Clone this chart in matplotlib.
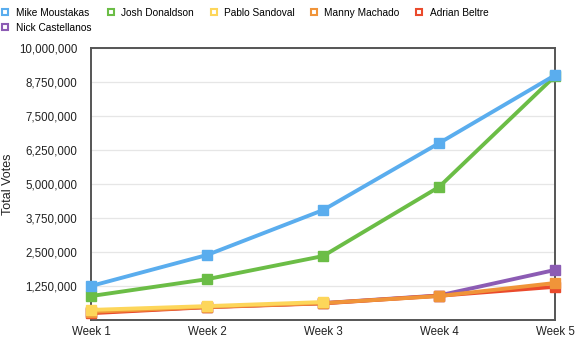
import matplotlib
matplotlib.use("Agg")
import matplotlib.pyplot as plt
from matplotlib.ticker import FuncFormatter, MultipleLocator
from matplotlib.lines import Line2D

plt.rcParams["font.family"] = ["Liberation Sans", "DejaVu Sans"]

# ======================
# Data
# ======================
weeks = ["Week 1", "Week 2", "Week 3", "Week 4", "Week 5"]

mike_moustakas = [1250000, 2390000, 4040000, 6500000, 9000000]
josh_donaldson = [880000, 1500000, 2350000, 4890000, 8970000]
pablo_sandoval = [370000, 510000, 660000]
manny_machado = [300000, 480000, 620000, 880000, 1360000]
adrian_beltre = [250000, 470000, 610000, 890000, 1220000]
nick_castellanos = [280000, 480000, 620000, 900000, 1840000]

players = ["Mike Moustakas", "Josh Donaldson", "Pablo Sandoval",
           "Manny Machado", "Adrian Beltre", "Nick Castellanos"]
series = [mike_moustakas, josh_donaldson, pablo_sandoval,
          manny_machado, adrian_beltre, nick_castellanos]
colors = ["#5aadee", "#6bbd46", "#fdd65a", "#f09439", "#ea4a2c", "#8c5cb4"]

# ======================
# Plot
# ======================
fig = plt.figure(figsize=(5.8, 3.45), dpi=100)
ax = fig.add_axes([0.157, 0.0725, 0.8, 0.7885])

handles = []
for i, (name, vals, c) in enumerate(zip(players, series, colors)):
    ax.plot(range(len(vals)), vals, color=c, lw=2.8, marker="s", ms=7,
            mec=c, mfc=c, zorder=10 - i, clip_on=False, solid_joinstyle="round")
    handles.append(Line2D([], [], ls="none", marker="s", ms=4.5, mfc="white",
                          mec=c, mew=1.5, label=name))

ax.set_xlim(0, len(weeks) - 1)
ax.set_ylim(0, 10000000)
ax.set_xticks(range(len(weeks)))
ax.set_xticklabels(weeks)
ax.yaxis.set_major_locator(MultipleLocator(1250000))
ax.yaxis.set_major_formatter(FuncFormatter(lambda v, p: "" if v == 0 else f"{int(v):,}"))
ax.tick_params(axis="both", length=0, labelsize=8.3, colors="#222222")
ax.tick_params(axis="y", pad=10)
ax.tick_params(axis="x", pad=4)
ax.grid(axis="y", color="#e6e6e6", lw=0.9)
ax.set_axisbelow(True)
for s in ax.spines.values():
    s.set_color("#555555")
    s.set_linewidth(1.4)

fig.text(8 / 580, 1 - 184 / 345, "Total Votes", rotation=90, ha="center",
         va="center", fontsize=9, color="#222222")

# legend: column-major fill, so put Nick second to land under Mike
order = [0, 5, 1, 2, 3, 4]
fig.legend([handles[i] for i in order], [players[i] for i in order],
           loc="upper left", bbox_to_anchor=(-0.008, 0.995), ncol=5, frameon=False,
           fontsize=7.3, handlelength=0.8, handletextpad=0.6, columnspacing=1.55,
           labelspacing=0.5, borderaxespad=0.2)

fig.savefig("out.png", dpi=100)
